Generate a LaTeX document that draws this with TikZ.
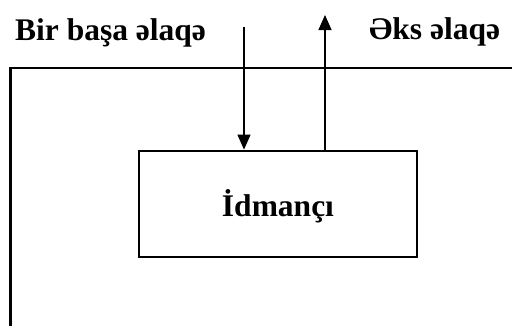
\documentclass[tikz,border=0pt]{standalone}
\usepackage{fontspec}
\setmainfont{Liberation Serif}
\usetikzlibrary{arrows.meta}
\begin{document}
\begin{tikzpicture}[x=1pt,y=-1pt,
  lbl/.style={font=\fontsize{31.5}{36}\selectfont\bfseries, inner sep=0pt},
  conn/.style={line width=1.3pt, -{Triangle[length=15pt,width=13pt]}}]
\useasboundingbox (0,0) rectangle (512,325);
\draw[line width=2.8pt] (513,68) -- (10.5,68) -- (10.5,326);
\node[lbl, draw, line width=2.8pt, minimum width=278pt, minimum height=106pt] (box) at (278,204) {};
\node[lbl, anchor=base] (idm) at (278,216) {İdmançı};
\node[lbl, anchor=base west] (direct) at (15,40) {Bir başa əlaqə};
\node[lbl, anchor=base west] (back) at (369,39) {Əks əlaqə};
\coordinate (dstart) at (244,27);
\coordinate (uend) at (325,15);
\draw[conn] (dstart) -- (dstart |- box.north);
\draw[conn] (uend |- box.north) -- (uend);
\end{tikzpicture}
\end{document}
